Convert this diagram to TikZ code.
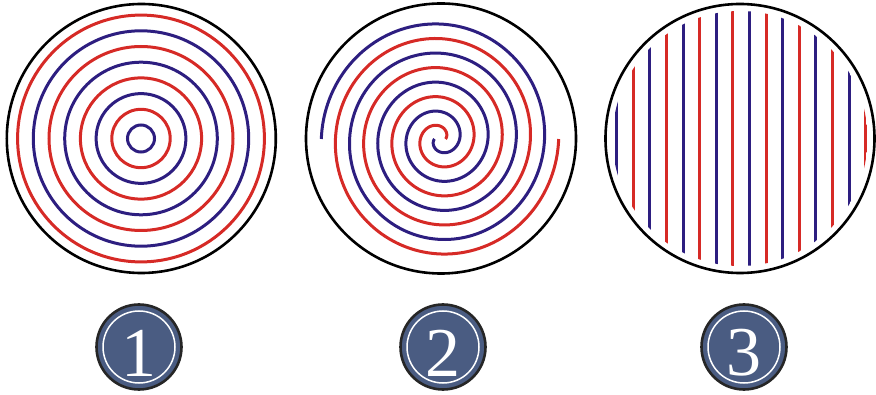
\documentclass[tikz,border=0pt]{standalone}
\usepackage{fontspec}
\newfontfamily\numfont{Liberation Serif}
\definecolor{sblue}{RGB}{45,30,128}
\definecolor{sred}{RGB}{214,42,38}
\definecolor{badgefill}{RGB}{74,92,130}
\tikzset{
  rim/.style={draw=black, line width=2.6pt},
  bluestroke/.style={draw=sblue, line width=3pt},
  redstroke/.style={draw=sred, line width=3pt},
  badge/.style={circle, fill=badgefill, draw=black!85, line width=2.6pt, minimum size=85pt, inner sep=0pt},
  badgering/.style={draw=white, line width=1.5pt},
  badgenum/.style={text=white, font=\numfont\fontsize{70}{70}\selectfont, inner sep=0pt}
}
\begin{document}
\begin{tikzpicture}[x=1pt,y=-1pt]
\useasboundingbox (0,0) rectangle (876,395);
% ---- 1: concentric rings
\foreach \i in {0,...,7}{
  \pgfmathsetmacro{\rr}{13.5+15.7*\i}
  \pgfmathtruncatemacro{\odd}{mod(\i,2)}
  \ifnum\odd=0
    \draw[bluestroke] (141,138.5) circle[radius=\rr pt];
  \else
    \draw[redstroke] (141,138.5) circle[radius=\rr pt];
  \fi
}
\draw[rim] (141.3,138.5) circle[radius=134.5pt];
% ---- 2: double spiral
\begin{scope}[shift={(440,139)}, yscale=1.03]
  \draw[bluestroke] plot[domain=0:1440, samples=600, variable=\t]
    ({(5.5+0.078611*\t)*cos(180-\t)}, {(5.5+0.078611*\t)*sin(180-\t)});
  \draw[redstroke] plot[domain=0:1440, samples=600, variable=\t]
    ({(5.5+0.078611*\t)*cos(-\t)}, {(5.5+0.078611*\t)*sin(-\t)});
\end{scope}
\draw[rim] (441,138.5) circle[radius=135pt];
% ---- 3: vertical stripes
\begin{scope}
  \clip (740,138.5) circle[radius=127.5pt];
  \foreach \k in {0,...,15}{
    \pgfmathsetmacro{\xx}{616.7+16.6*\k}
    \pgfmathtruncatemacro{\odd}{mod(\k,2)}
    \ifnum\odd=0
      \draw[bluestroke] (\xx,0) -- (\xx,280);
    \else
      \draw[redstroke] (\xx,0) -- (\xx,280);
    \fi
  }
\end{scope}
\draw[rim] (740,138.5) circle[radius=134.5pt];
% ---- badges
\node[badge] (b1) at (139,347) {};
\node[badge] (b2) at (443,347) {};
\node[badge] (b3) at (744,347) {};
\foreach \b in {b1,b2,b3}{
  \draw[badgering] (\b.center) circle[radius=36pt];
}
\node[badgenum] (n1) at (139,353) {1};
\node[badgenum] (n2) at (443,353) {2};
\node[badgenum] (n3) at (744,353) {3};
\end{tikzpicture}
\end{document}
